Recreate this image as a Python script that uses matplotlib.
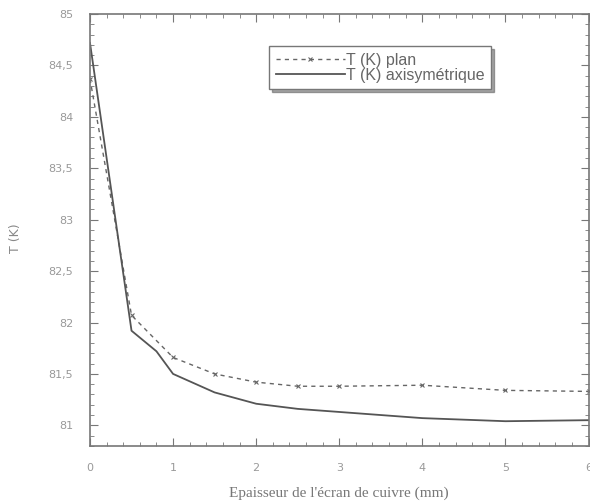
import matplotlib
matplotlib.use('Agg')
import matplotlib.pyplot as plt
from matplotlib.ticker import MultipleLocator, FuncFormatter

# data
x_plan = [0, 0.5, 1, 1.5, 2, 2.5, 3, 4, 5, 6]
t_plan = [84.37, 82.07, 81.66, 81.50, 81.42, 81.38, 81.38, 81.39, 81.34, 81.33]

x_axi = [0, 0.5, 0.8, 1, 1.5, 2, 2.5, 3, 4, 5, 6]
t_axi = [84.72, 81.92, 81.72, 81.50, 81.32, 81.21, 81.16, 81.13, 81.07, 81.04, 81.05]

grey = '#777777'
lgrey = '#999999'

fig = plt.figure(figsize=(5.9, 5.01), dpi=100)
ax = fig.add_axes([0.1525, 0.11, 0.845, 0.862])

ax.plot(x_plan, t_plan, ls=(0, (3, 3)), color='#666666', lw=1,
        marker='x', ms=3, mew=0.8, label='T (K) plan')
ax.plot(x_axi, t_axi, ls='-', color='#555555', lw=1.3,
        label='T (K) axisymétrique')

ax.set_xlim(0, 6)
ax.set_ylim(80.8, 85)
ax.xaxis.set_major_locator(MultipleLocator(1))
ax.xaxis.set_minor_locator(MultipleLocator(0.2))
ax.yaxis.set_major_locator(MultipleLocator(0.5))
ax.yaxis.set_minor_locator(MultipleLocator(0.1))
ax.yaxis.set_major_formatter(FuncFormatter(lambda v, p: ('%g' % v).replace('.', ',')))

ax.tick_params(which='both', direction='in', top=True, right=True, color=grey,
               labelcolor=lgrey, labelsize=8)
ax.tick_params(which='major', length=6, pad=12)
ax.tick_params(which='minor', length=3)
for s in ax.spines.values():
    s.set_color(grey)
    s.set_linewidth(1.2)

ax.set_xlabel("Epaisseur de l'écran de cuivre (mm)", family='Liberation Serif',
              color='#777777', fontsize=11, labelpad=10)
fig.text(15 / 590, 1 - 238 / 501, 'T (K)', rotation=90, color='#888888',
         fontsize=9, ha='center', va='center')

leg = ax.legend(loc='upper left', bbox_to_anchor=(0.36, 0.925), frameon=True,
                shadow=True, fancybox=False, handlelength=4.3,
                prop={'family': 'Liberation Sans', 'size': 11.5},
                handletextpad=0.1, borderpad=0.4, labelspacing=0.0,
                borderaxespad=0)
leg.get_frame().set_edgecolor(grey)
leg.get_frame().set_linewidth(1)
for t in leg.get_texts():
    t.set_color('#666666')

fig.savefig('out.png', dpi=100)
